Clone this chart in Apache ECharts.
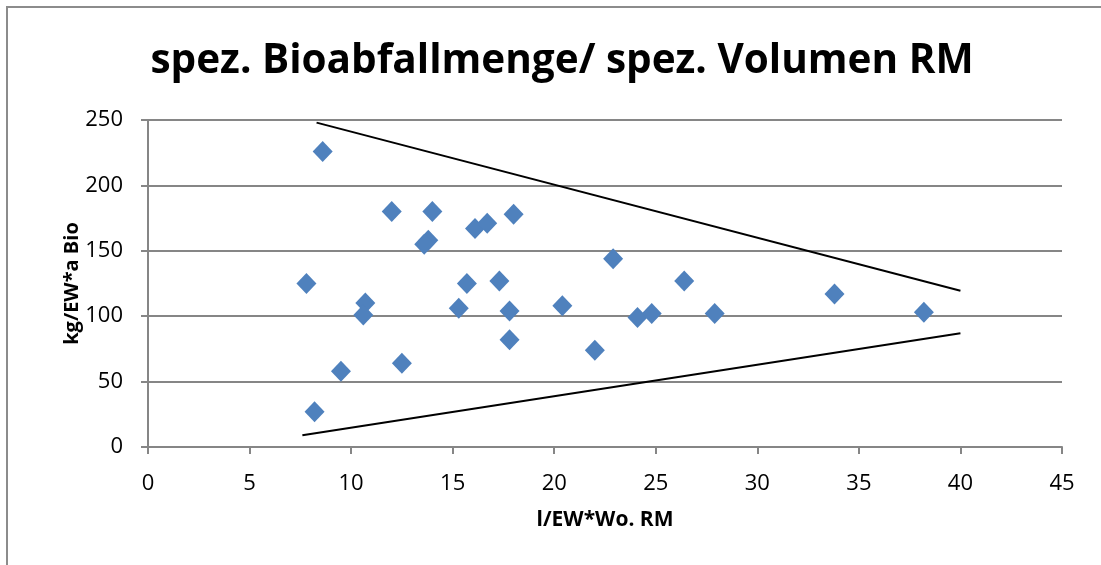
<!DOCTYPE html>
<html>
<head>
<meta charset="utf-8">
<script src="https://cdn.jsdelivr.net/npm/echarts@6/dist/echarts.min.js"></script>
<style>
html,body{margin:0;padding:0;background:#fff;}
#chart{width:1101px;height:565px;}
</style>
</head>
<body>
<div id="chart"></div>
<script>
// Data
const xValues = [8.6, 12.0, 14.0, 13.8, 13.6, 7.8, 10.7, 10.6, 9.5, 12.5, 8.2, 15.7, 15.3, 17.3, 17.8, 17.8, 20.4, 22.0, 24.1, 24.8, 26.4, 27.9, 16.1, 16.7, 18.0, 22.9, 33.8, 38.2];
const yValues = [226, 180, 180, 158, 155, 125, 110, 101, 58, 64, 27, 125, 106, 127, 104, 82, 108, 74, 99, 102, 127, 102, 167, 171, 178, 144, 117, 103];
const upperLineX = [8.3, 40.0];
const upperLineY = [248, 119.5];
const lowerLineX = [7.6, 40.0];
const lowerLineY = [9, 87];
const titleText = 'spez. Bioabfallmenge/ spez. Volumen RM';
const xAxisName = 'l/EW*Wo. RM';
const yAxisName = 'kg/EW*a Bio';

const zip = (a, b) => a.map((v, i) => [v, b[i]]);

const chart = echarts.init(document.getElementById('chart'), null, {renderer: 'canvas'});
const axisColor = '#868686';
chart.setOption({
  animation: false,
  backgroundColor: '#ffffff',
  title: {
    text: titleText,
    left: 557, top: 36, textAlign: 'center',
    textStyle: {fontFamily: 'Open Sans', fontWeight: 'bold', fontSize: 40.5, color: '#000'}
  },
  graphic: [{
    type: 'polyline',
    shape: {points: [[7, 565], [7, 7], [1101, 7]]},
    style: {stroke: '#8c8c8c', lineWidth: 2, fill: null}
  }],
  grid: {left: 148, right: 39, top: 120, bottom: 118, containLabel: false},
  xAxis: {
    type: 'value', min: 0, max: 45, interval: 5,
    name: xAxisName, nameLocation: 'middle', nameGap: 63, nameMoveOverlap: false,
    nameTextStyle: {fontFamily: 'Open Sans', fontWeight: 'bold', fontSize: 21, color: '#000'},
    axisLine: {show: true, lineStyle: {color: axisColor, width: 2}},
    axisTick: {show: true, length: 7, lineStyle: {color: axisColor, width: 2}},
    axisLabel: {fontFamily: 'Open Sans', fontSize: 22, color: '#000', margin: 26},
    splitLine: {show: false}
  },
  yAxis: {
    type: 'value', min: 0, max: 250, interval: 50,
    name: yAxisName, nameLocation: 'middle', nameGap: 66, nameRotate: 90, nameMoveOverlap: false,
    nameTextStyle: {fontFamily: 'Open Sans', fontWeight: 'bold', fontSize: 20, color: '#000'},
    axisLine: {show: true, lineStyle: {color: axisColor, width: 2}},
    axisTick: {show: true, length: 7, lineStyle: {color: axisColor, width: 2}},
    axisLabel: {fontFamily: 'Open Sans', fontSize: 22, color: '#000', margin: 25},
    splitLine: {show: true, lineStyle: {color: axisColor, width: 2}}
  },
  series: [
    {
      type: 'line', data: zip(upperLineX, upperLineY), symbol: 'none',
      lineStyle: {color: '#000', width: 2}, silent: true, z: 3
    },
    {
      type: 'line', data: zip(lowerLineX, lowerLineY), symbol: 'none',
      lineStyle: {color: '#000', width: 2}, silent: true, z: 3
    },
    {
      type: 'scatter', data: zip(xValues, yValues),
      symbol: 'diamond', symbolSize: [20, 21],
      itemStyle: {color: '#4F81BD', opacity: 1}, z: 4
    }
  ]
});
</script>
</body>
</html>
